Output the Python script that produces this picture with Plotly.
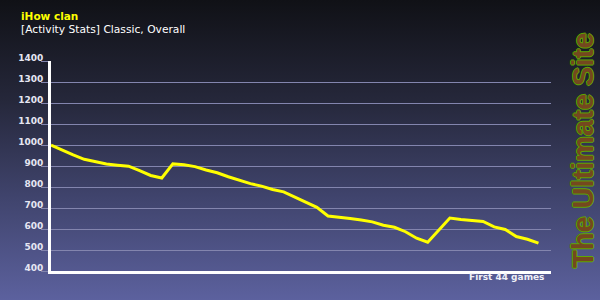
import base64
import plotly.graph_objects as go

# ---- data ----
games = list(range(0, 45))
rating = [1000, 976, 953, 932, 922, 910, 904, 899, 878, 855,
          843, 910, 906, 897, 881, 868, 849, 832, 816, 804,
          788, 777, 752, 725, 703, 662, 657, 650, 643, 634,
          618, 608, 587, 556, 537, 597, 652, 645, 641, 636,
          610, 598, 564, 551, 533]
y_ticks = [400, 500, 600, 700, 800, 900, 1000, 1100, 1200, 1300, 1400]
title_text = "iHow clan"
subtitle_text = "[Activity Stats] Classic, Overall"
xlabel_text = "First 44 games"
watermark_text = "The Ultimate Site"

# ---- background gradient (SVG data URI) ----
svg = ('<svg xmlns="http://www.w3.org/2000/svg" width="600" height="300" preserveAspectRatio="none">'
       '<defs><linearGradient id="g" x1="0" y1="0" x2="0" y2="1">'
       '<stop offset="0" stop-color="#101116"/>'
       '<stop offset="0.33" stop-color="#25273a"/>'
       '<stop offset="0.66" stop-color="#40446d"/>'
       '<stop offset="1" stop-color="#5c619e"/>'
       '</linearGradient></defs><rect width="600" height="300" fill="url(#g)"/></svg>')
bg_uri = "data:image/svg+xml;base64," + base64.b64encode(svg.encode()).decode()

L, R, T, B = 51, 49, 61, 29
W, H = 600, 300
pw, ph = W - L - R, H - T - B

def px(x):
    return (x - L) / pw

def py(y):
    return (H - B - y) / ph

fig = go.Figure()
fig.add_trace(go.Scatter(x=games, y=rating, mode="lines",
                         line=dict(color="#ffff00", width=3),
                         hoverinfo="skip", showlegend=False))

fig.update_layout(
    width=W, height=H,
    margin=dict(l=L, r=R, t=T, b=B, pad=0),
    paper_bgcolor="#34375a",
    plot_bgcolor="rgba(0,0,0,0)",
    images=[dict(source=bg_uri, xref="paper", yref="paper",
                 x=px(0), y=py(0), sizex=W / pw, sizey=H / ph,
                 xanchor="left", yanchor="top", sizing="stretch", layer="below")],
    xaxis=dict(range=[0, 45.13], showgrid=False, zeroline=False,
               showline=True, linecolor="#ffffff", linewidth=2.5,
               showticklabels=False, ticks="", fixedrange=True),
    yaxis=dict(range=[400, 1400], tickvals=y_ticks,
               ticktext=[str(v) for v in y_ticks],
               showgrid=True, gridcolor="#8385ae", gridwidth=1,
               zeroline=False, showline=True, linecolor="#ffffff", linewidth=3,
               ticks="outside", ticklen=7, tickcolor="#8385ae", tickwidth=1,
               ticklabelshift=-3, ticklabelstandoff=-4,
               tickfont=dict(family="DejaVu Sans", size=9, color="#e6e6f2", weight="bold"),
               fixedrange=True),
    annotations=[
        dict(text=title_text, xref="paper", yref="paper", x=px(19), y=py(16),
             xanchor="left", yanchor="middle", showarrow=False,
             font=dict(family="DejaVu Sans", size=10.5, color="#ffff00", weight="bold")),
        dict(text=subtitle_text, xref="paper", yref="paper", x=px(19), y=py(29),
             xanchor="left", yanchor="middle", showarrow=False,
             font=dict(family="DejaVu Sans", size=10.7, color="#ffffff")),
        dict(text=xlabel_text, xref="paper", yref="paper", x=px(546), y=py(277),
             xanchor="right", yanchor="middle", showarrow=False,
             font=dict(family="DejaVu Sans", size=9, color="#f0f0f8", weight="bold")),
        dict(text=watermark_text, xref="paper", yref="paper", x=px(583), y=py(151),
             xanchor="center", yanchor="middle", showarrow=False, textangle=-90,
             font=dict(family="Liberation Sans", size=29, color="#74481f", weight="bold",
                       shadow="1px 0 0 #5fa800, -1px 0 0 #5fa800, 0 1px 0 #5fa800, 0 -1px 0 #5fa800")),
    ],
)

fig.write_html("out.html", config={"displayModeBar": False})
